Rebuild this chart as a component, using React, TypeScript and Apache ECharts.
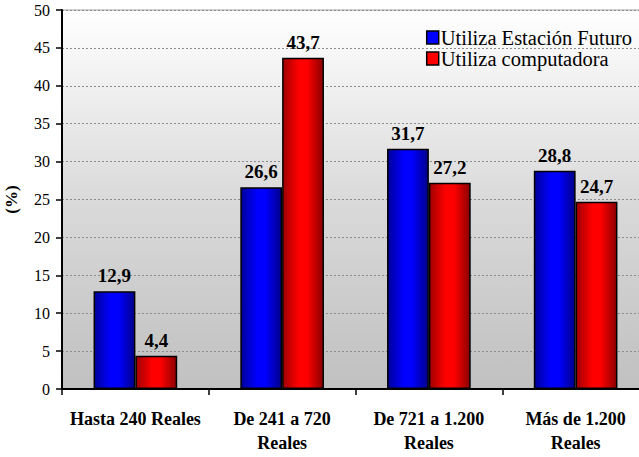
import React, { useEffect, useRef } from "react";
import * as echarts from "echarts";

const categories = ["Hasta 240 Reales", "De 241 a 720\nReales", "De 721 a 1.200\nReales", "Más de 1.200\nReales"];
const seriesNames = ["Utiliza Estación Futuro", "Utiliza computadora"];
const estacionValues = [12.9, 26.6, 31.7, 28.8];
const computadoraValues = [4.4, 43.7, 27.2, 24.7];

const FONT = "Liberation Serif";

const blueGrad = new echarts.graphic.LinearGradient(0, 0, 1, 0, [
  { offset: 0, color: "#00009a" },
  { offset: 0.4, color: "#0000ff" },
  { offset: 0.6, color: "#0000ff" },
  { offset: 1, color: "#00008a" },
]);
const redGrad = new echarts.graphic.LinearGradient(0, 0, 1, 0, [
  { offset: 0, color: "#a00000" },
  { offset: 0.4, color: "#ff0000" },
  { offset: 0.6, color: "#ff0000" },
  { offset: 1, color: "#8a0000" },
]);

export default function App() {
  const ref = useRef<HTMLDivElement>(null);
  useEffect(() => {
    const chart = echarts.init(ref.current!, null, { renderer: "svg" });
    const label = {
      show: true,
      position: "top",
      distance: 6,
      fontFamily: FONT,
      fontWeight: "bold",
      fontSize: 19,
      color: "#000",
      formatter: (p: any) => String(p.value).replace(".", ","),
    };
    chart.setOption({
      animation: false,
      backgroundColor: "#fff",
      textStyle: { fontFamily: FONT },
      legend: {
        right: 2,
        top: 22,
        orient: "vertical",
        itemWidth: 12,
        itemHeight: 13,
        itemGap: 0,
        padding: 5,
        textStyle: { fontFamily: FONT, fontSize: 20.5, lineHeight: 19, color: "#000", padding: [0, 0, 0, -3] },
        data: seriesNames.map((n, i) => ({
          name: n,
          icon: "rect",
          itemStyle: { color: i === 0 ? "#0000ff" : "#ff0000", borderColor: "#000", borderWidth: 1.5 },
        })),
      },
      grid: {
        left: 62,
        right: -10,
        top: 10,
        bottom: 68,
        outerBoundsMode: "none",
        show: true,
        borderColor: "#a0a0a0",
        borderWidth: 1,
        backgroundColor: new echarts.graphic.LinearGradient(0, 0, 0, 1, [
          { offset: 0, color: "#ffffff" },
          { offset: 0.5, color: "#dadada" },
          { offset: 1, color: "#c0c0c0" },
        ]),
      },
      xAxis: {
        type: "category",
        data: categories,
        axisLine: { lineStyle: { color: "#000", width: 2 } },
        axisTick: { show: true, length: 6, lineStyle: { color: "#000", width: 1.5 } },
        axisLabel: {
          fontFamily: FONT,
          fontWeight: "bold",
          fontSize: 18,
          color: "#000",
          margin: 18,
          lineHeight: 24,
          interval: 0,
        },
      },
      yAxis: {
        type: "value",
        min: 0,
        max: 50,
        interval: 5,
        name: "(%)",
        nameLocation: "middle",
        nameGap: 42,
        nameRotate: 90,
        nameTextStyle: { fontFamily: FONT, fontWeight: "bold", fontSize: 17, color: "#000" },
        axisLine: { show: true, lineStyle: { color: "#000", width: 2 } },
        axisTick: { show: true, length: 6, lineStyle: { color: "#000", width: 1.5 } },
        axisLabel: { fontFamily: FONT, fontSize: 16, color: "#000", margin: 12 },
        splitLine: { show: true, lineStyle: { color: "#8c8c8c", type: [2, 2], width: 1 } },
      },
      series: [
        {
          name: seriesNames[0],
          type: "bar",
          data: estacionValues,
          barGap: "0%",
          barCategoryGap: "43%",
          itemStyle: { color: blueGrad, borderColor: "#000", borderWidth: 1.5 },
          label,
        },
        {
          name: seriesNames[1],
          type: "bar",
          data: computadoraValues,
          itemStyle: { color: redGrad, borderColor: "#000", borderWidth: 1.5 },
          label,
        },
      ],
    });
    return () => chart.dispose();
  }, []);
  return <div ref={ref} style={{ width: 639, height: 457, position: "absolute", left: 0, top: 0 }} />;
}
